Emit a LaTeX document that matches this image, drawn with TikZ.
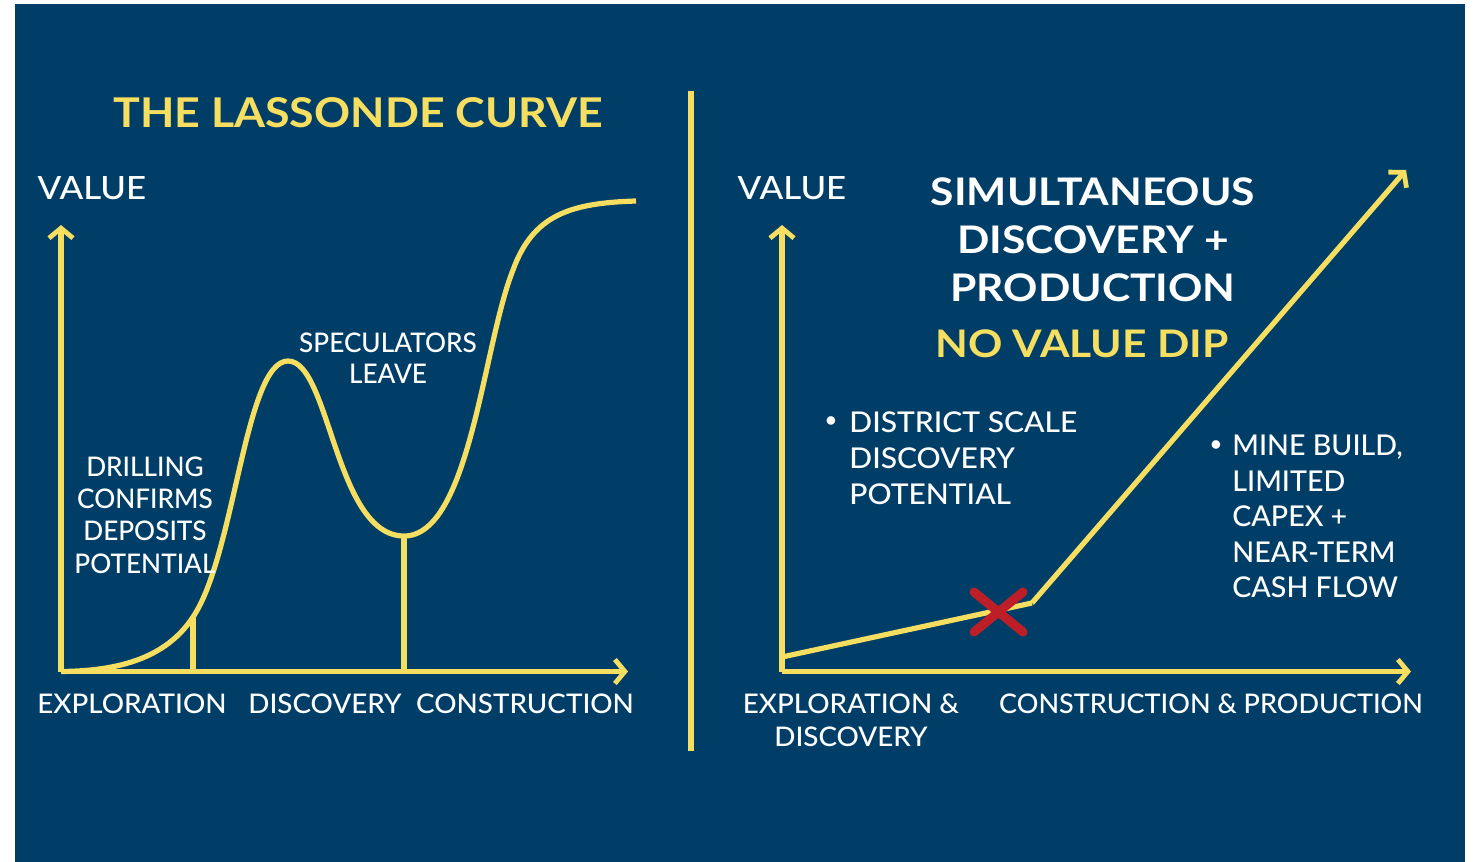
\documentclass[tikz,border=0pt]{standalone}
\usepackage{fontspec}
\setmainfont{Lato}[UprightFont=* Medium,BoldFont=* Bold]
\newfontfamily\fbody{Lato}[UprightFont=* Medium,FakeStretch=1.03]
\newfontfamily\fwide{Lato}[UprightFont=* Medium,FakeStretch=1.0]
\newfontfamily\fspec{Lato}[UprightFont=* Medium,FakeStretch=0.97]
\newfontfamily\fval{Lato}[UprightFont=* Medium,FakeStretch=1.09]
\newfontfamily\fbul{Lato}[UprightFont=* Medium,FakeStretch=1.05]
\newfontfamily\fhead{Lato}[UprightFont=* Bold,FakeStretch=1.12]
\newfontfamily\ftitle{Lato}[UprightFont=* Bold,FakeStretch=1.09]
\usetikzlibrary{arrows.meta}
\definecolor{navy}{RGB}{0,62,104}
\definecolor{gold}{RGB}{246,222,96}
\definecolor{redx}{RGB}{190,30,40}
\tikzset{
 x=0.5pt,y=-0.5pt,
 yline/.style={draw=gold,line width=2.6pt},
 axis/.style={yline,-{Straight Barb[length=5pt,width=12pt,line width=2.4pt]}},
 txt/.style={text=white,inner sep=0,font=\fbody\fontsize{13.5}{16.5}\selectfont,align=center},
 head/.style={text=white,inner sep=0,font=\fhead\fontsize{19}{24}\selectfont,align=center},
 crossarm/.style={draw=redx,line width=4.5pt,line cap=round},
}
\begin{document}
\begin{tikzpicture}
\useasboundingbox (0,0) rectangle (1473,862);
\fill[white] (0,0) rectangle (1473,862);
\fill[navy] (15,4) rectangle (1465,862);
% divider
\coordinate (dt) at (691,91); \coordinate (db) at (691,751);
\draw[yline] (dt) -- (db);
% left
\node[head,text=gold,font=\ftitle\fontsize{20.5}{24}\selectfont] (ttl) at (358,113) {THE LASSONDE CURVE};
\node[txt,font=\fval\fontsize{16}{18}\selectfont] (v1) at (92,188) {VALUE};
\coordinate (o1) at (61,671.5); \coordinate (y1) at (61,225); \coordinate (x1) at (628,671.5);
\draw[axis] (o1) -- (y1);
\draw[axis] (o1) -- (x1);
\coordinate (c1) at (193,617); \coordinate (c1b) at (193,671.5);
\coordinate (c2) at (404,536); \coordinate (c2b) at (404,671.5);
\draw[yline] (c1) -- (c1b);
\draw[yline] (c2) -- (c2b);
\draw[yline] (o1) .. controls (115,671) and (165,660) .. (c1)
 .. controls (235,555) and (245,361) .. (288,361)
 .. controls (330,361) and (335,536) .. (c2)
 .. controls (470,536) and (483,345) .. (513,270)
 .. controls (533,215) and (570,203) .. (636,201);
\node[txt,font=\fspec\fontsize{13.5}{16.2}\selectfont] (spec) at (388,358) {SPECULATORS\\[-0.5pt]LEAVE};
\node[txt,font=\fspec\fontsize{13.5}{16.2}\selectfont] (drill) at (145,515) {DRILLING\\CONFIRMS\\DEPOSITS\\POTENTIAL};
\node[txt] (e1) at (132,704) {EXPLORATION};
\node[txt] (d1) at (325,704) {DISCOVERY};
\node[txt] (k1) at (525,704) {CONSTRUCTION};
% right
\node[txt,font=\fval\fontsize{16}{18}\selectfont] (v2) at (792,188) {VALUE};
\coordinate (o2) at (782,671.5); \coordinate (y2) at (782,225); \coordinate (x2) at (1411,671.5);
\draw[axis] (o2) -- (y2);
\draw[axis] (o2) -- (x2);
\coordinate (s2) at (782,657); \coordinate (k2) at (1032,603); \coordinate (e2) at (1406,170);
\draw[yline] (s2) -- (k2);
\draw[yline,-{Straight Barb[length=5pt,width=12pt,line width=2.4pt]}] (k2) -- (e2);
\coordinate (xa) at (974,592); \coordinate (xb) at (1023,632);
\coordinate (xc) at (1023,592); \coordinate (xd) at (974,632);
\draw[crossarm] (xa) -- (xb);
\draw[crossarm] (xc) -- (xd);
\node[head] (sim) at (1093,240) {SIMULTANEOUS\\DISCOVERY +\\PRODUCTION};
\node[head,text=gold] (nvd) at (1082,344) {NO VALUE DIP};
\node[txt,font=\fbul\fontsize{14.3}{18}\selectfont,align=left,anchor=north west] (b1) at (849,411) {DISTRICT SCALE\\DISCOVERY\\POTENTIAL};
\node[txt,font=\fontsize{11}{18}\selectfont,anchor=center] (bd1) at (831,422) {•};
\node[txt,font=\fwide\fontsize{14.3}{17.7}\selectfont,align=left,anchor=north west] (b2) at (1232,435) {MINE BUILD,\\LIMITED\\CAPEX +\\NEAR-TERM\\CASH FLOW};
\node[txt,font=\fontsize{11}{18}\selectfont,anchor=center] (bd2) at (1216,446) {•};
\node[txt] (e2l) at (851,720.5) {EXPLORATION \&\\[0pt]DISCOVERY};
\node[txt,font=\fwide\fontsize{13.5}{16.5}\selectfont] (c2l) at (1211,704) {CONSTRUCTION \& PRODUCTION};
\end{tikzpicture}
\end{document}
